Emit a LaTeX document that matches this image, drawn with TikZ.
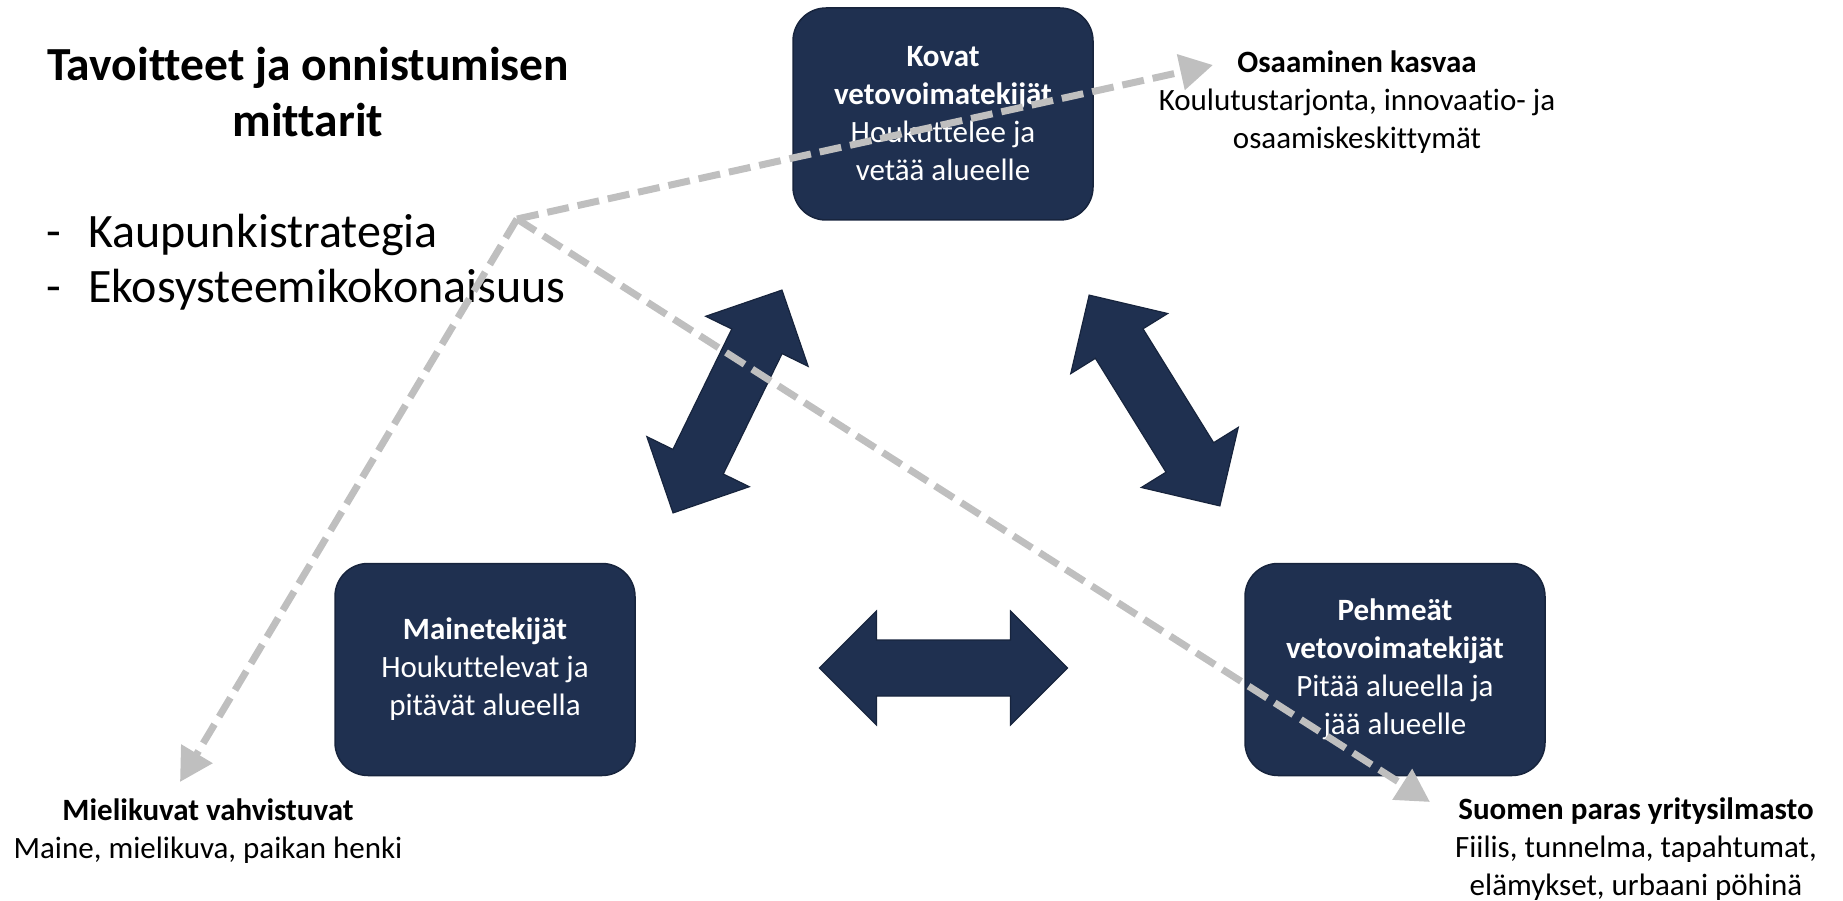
\documentclass[tikz,border=0pt]{standalone}
\usepackage{fontspec}
\setmainfont{Carlito}[Ligatures=NoCommon]
\usetikzlibrary{arrows.meta}
\definecolor{navy}{HTML}{1F3050}
\definecolor{navyedge}{HTML}{17243D}
\definecolor{dashgray}{HTML}{BFBFBF}
\tikzset{
  factorbox/.style={draw=navyedge, line width=1.5pt, fill=navy, rounded corners=33pt,
    minimum width=300pt, minimum height=212pt, text=white, align=center,
    font=\fontsize{31}{38}\selectfont, inner sep=0pt},
  goallabel/.style={align=center, font=\fontsize{31}{38}\selectfont, inner sep=0pt},
  dashline/.style={draw=dashgray, line width=7pt, dash pattern=on 22pt off 9pt,
    -{Triangle[length=33pt,width=35pt]}},
  bigarrow/.style={fill=navy, draw=navyedge, line width=1.2pt}
}
\newcommand{\dblarrow}{(-124,0) -- (-67,57) -- (-67,28) -- (67,28) -- (67,57) -- (124,0) -- (67,-57) -- (67,-28) -- (-67,-28) -- (-67,-57) -- cycle}
\begin{document}
\begin{tikzpicture}[x=1pt,y=-1pt]
\useasboundingbox (0,0) rectangle (1843,901);
% title and bullets
\node[align=center, font=\fontsize{47.5}{56}\selectfont\bfseries, inner sep=0pt] (title) at (308,92)
  {Tavoitteet ja onnistumisen\\mittarit};
\node[align=left, anchor=west, font=\fontsize{48}{55}\selectfont, inner sep=0pt] (bullets) at (46,262)
  {\makebox[42pt][l]{-}Kaupunkistrategia\\\makebox[42pt][l]{-}Ekosysteemikokonaisuus};
% boxes
\node[factorbox] (kovat) at (943,114)
  {\textbf{Kovat}\\\textbf{vetovoimatekijät}\\Houkuttelee ja\\vetää alueelle};
\node[factorbox] (maine) at (485,669.5)
  {\textbf{Mainetekijät}\\Houkuttelevat ja\\pitävät alueella};
\node[factorbox] (pehmeat) at (1395,669.5)
  {\textbf{Pehmeät}\\\textbf{vetovoimatekijät}\\Pitää alueella ja\\jää alueelle};
% double arrows
\begin{scope}[shift={(943.5,668)}]
  \path[bigarrow] \dblarrow;
\end{scope}
\begin{scope}[shift={(727.5,401.5)}, rotate=63.95]
  \path[bigarrow] \dblarrow;
\end{scope}
\begin{scope}[shift={(1154.5,400.5)}, rotate=-58.2]
  \path[bigarrow] \dblarrow;
\end{scope}
% goal labels
\node[goallabel] (osaaminen) at (1357,102)
  {\textbf{Osaaminen kasvaa}\\Koulutustarjonta, innovaatio- ja\\osaamiskeskittymät};
\node[goallabel] (mielikuvat) at (208,831)
  {\textbf{Mielikuvat vahvistuvat}\\Maine, mielikuva, paikan henki};
\node[goallabel] (suomen) at (1636,849)
  {\textbf{Suomen paras yritysilmasto}\\Fiilis, tunnelma, tapahtumat,\\elämykset, urbaani pöhinä};
% dashed connectors
\coordinate (hub) at (517,219);
\coordinate (tipTR) at (1213,65);
\coordinate (tipBL) at (180,782);
\coordinate (tipBR) at (1430,802);
\draw[dashline] (hub) -- (tipTR);
\draw[dashline] (hub) -- (tipBL);
\draw[dashline] (hub) -- (tipBR);
\end{tikzpicture}
\end{document}
